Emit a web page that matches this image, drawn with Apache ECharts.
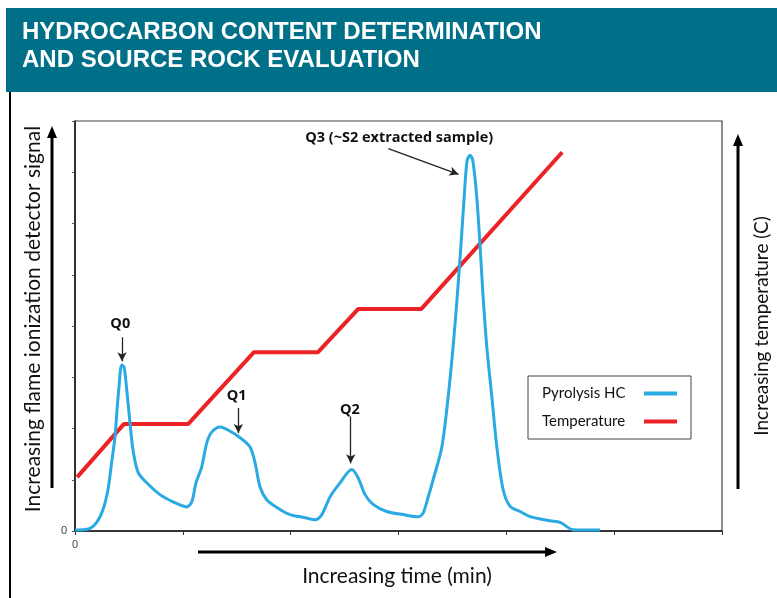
<!DOCTYPE html>
<html>
<head>
<meta charset="utf-8">
<script src="https://cdn.jsdelivr.net/npm/echarts@6/dist/echarts.min.js"></script>
<style>
  html, body { margin: 0; padding: 0; background: #fff; }
  #chart { width: 777px; height: 598px; }
</style>
</head>
<body>
<div id="chart"></div>
<script>
// pyrolysis trace, [time, signal]
const pyrolysisHC = [
  [0, 0.02], [0.123, 0.04], [0.201, 0.17], [0.26, 0.42], [0.306, 0.81], [0.34, 1.34],
  [0.371, 1.84], [0.39, 2.37], [0.408, 2.81], [0.433, 3.24], [0.455, 3.2], [0.48, 2.75],
  [0.51, 2.11], [0.538, 1.58], [0.584, 1.15], [0.665, 0.94], [0.788, 0.71], [0.909, 0.57],
  [1.036, 0.47], [1.083, 0.57], [1.122, 0.94], [1.175, 1.25], [1.222, 1.72], [1.268, 1.93],
  [1.345, 2.03], [1.419, 1.97], [1.531, 1.82], [1.623, 1.64], [1.67, 1.33], [1.716, 0.86],
  [1.778, 0.61], [1.871, 0.46], [1.994, 0.32], [2.134, 0.26], [2.226, 0.22], [2.289, 0.32],
  [2.366, 0.67], [2.458, 0.94], [2.567, 1.2], [2.625, 1.04], [2.69, 0.71], [2.764, 0.52],
  [2.891, 0.38], [3.043, 0.32], [3.182, 0.28], [3.228, 0.35], [3.275, 0.66], [3.321, 1.0],
  [3.402, 1.64], [3.46, 2.61], [3.506, 3.59], [3.544, 4.56], [3.578, 5.54], [3.609, 6.51],
  [3.636, 7.23], [3.664, 7.33], [3.689, 7.23], [3.726, 6.51], [3.757, 5.54], [3.785, 4.56],
  [3.819, 3.59], [3.866, 2.61], [3.912, 1.64], [3.97, 0.81], [4.035, 0.48], [4.128, 0.38],
  [4.221, 0.28], [4.406, 0.2], [4.499, 0.17], [4.608, 0.03], [4.685, 0.02], [4.87, 0.02]
];

// oven temperature ramp (same plot scale)
const temperature = [
  [0.02, 1.05], [0.455, 2.09], [1.051, 2.09], [1.66, 3.49], [2.254, 3.49],
  [2.625, 4.33], [3.21, 4.33], [4.518, 7.39]
];

// peak labels and their arrows
const peakLabels = [
  { name: 'Q0', coord: [0.42, 4.04] },
  { name: 'Q1', coord: [1.5, 2.64] },
  { name: 'Q2', coord: [2.55, 2.36] },
  { name: 'Q3 (~S2 extracted sample)', coord: [3.006, 7.68] }
];
const peakArrows = [
  [[0.436, 3.78], [0.436, 3.31]],
  [[1.515, 2.40], [1.515, 1.91]],
  [[2.557, 2.23], [2.557, 1.32]],
  [[2.906, 7.46], [3.556, 6.96]]
];

const seriesNames = ['Pyrolysis HC', 'Temperature'];
const titleLines = ['HYDROCARBON CONTENT DETERMINATION', 'AND SOURCE ROCK EVALUATION'];

const chart = echarts.init(document.getElementById('chart'));

// legend icons sit right of the text, lined up in one column
const measure = document.createElement('canvas').getContext('2d');
measure.font = '15px Lato';
const legendText = 97;
const legendData = seriesNames.map(n => ({
  name: n,
  textStyle: { padding: [0, Math.max(0, legendText - measure.measureText(n).width), 0, 0] }
}));

function arrow(x1, y1, x2, y2, w) {
  const ang = Math.atan2(y2 - y1, x2 - x1);
  const len = 12, half = 5;
  const bx = x2 - len * Math.cos(ang), by = y2 - len * Math.sin(ang);
  const px = -Math.sin(ang) * half, py = Math.cos(ang) * half;
  return [
    { type: 'line', shape: { x1: x1, y1: y1, x2: bx, y2: by }, style: { stroke: '#000', lineWidth: w } },
    { type: 'polygon', shape: { points: [[x2, y2], [bx + px, by + py], [bx - px, by - py]] }, style: { fill: '#000' } }
  ];
}

const option = {
  animation: false,
  backgroundColor: '#fff',
  grid: {
    left: 75, right: 55, top: 121, bottom: 67,
    show: true, borderColor: '#444', borderWidth: 1.2
  },
  legend: {
    data: legendData,
    orient: 'vertical',
    left: 528, top: 376,
    padding: [10, 14, 10, 14],
    itemGap: 13,
    align: 'right',
    icon: 'rect',
    itemWidth: 33, itemHeight: 4,
    borderColor: '#444', borderWidth: 1,
    textStyle: { fontFamily: 'Lato', fontSize: 15, color: '#111' }
  },
  xAxis: {
    type: 'value', min: 0, max: 6, interval: 1,
    splitLine: { show: false },
    axisLine: { lineStyle: { color: '#111', width: 1.5 } },
    axisTick: { length: 4, lineStyle: { color: '#333' } },
    axisLabel: { formatter: v => (v === 0 ? '0' : ''), color: '#444', fontSize: 11, margin: 8 }
  },
  yAxis: {
    type: 'value', min: 0, max: 8, interval: 1,
    splitLine: { show: false },
    axisLine: { show: true, lineStyle: { color: '#111', width: 1.5 } },
    axisTick: { show: true, length: 3, lineStyle: { color: '#555' } },
    axisLabel: { formatter: v => (v === 0 ? '0' : ''), color: '#444', fontSize: 11, margin: 8 }
  },
  series: [
    {
      name: seriesNames[0],
      type: 'line',
      data: pyrolysisHC,
      smooth: 0.3,
      showSymbol: false,
      lineStyle: { color: '#2aaae2', width: 3 },
      itemStyle: { color: '#2aaae2' },
      z: 3,
      markLine: {
        silent: true,
        symbol: ['none', 'arrow'],
        symbolSize: [7, 9],
        label: { show: false },
        lineStyle: { color: '#222', width: 1.3, type: 'solid' },
        data: peakArrows.map(p => [{ coord: p[0] }, { coord: p[1] }])
      },
      markPoint: {
        silent: true,
        symbol: 'circle',
        symbolSize: 0,
        label: {
          show: true, position: 'inside', formatter: '{b}',
          fontFamily: 'Open Sans', fontWeight: 'bold', fontSize: 14.5, color: '#111'
        },
        data: peakLabels.map(p => ({ name: p.name, coord: p.coord }))
      }
    },
    {
      name: seriesNames[1],
      type: 'line',
      data: temperature,
      showSymbol: false,
      lineStyle: { color: '#ec2227', width: 4 },
      itemStyle: { color: '#ec2227' },
      z: 2
    }
  ],
  graphic: [
    { type: 'rect', shape: { x: 6, y: 8, width: 771, height: 84 }, style: { fill: '#006f88' } },
    {
      type: 'text', x: 22, y: 20,
      style: { text: titleLines[0], fill: '#fff', font: 'bold 24px "Liberation Sans"' }
    },
    {
      type: 'text', x: 22, y: 48,
      style: { text: titleLines[1], fill: '#fff', font: 'bold 24px "Liberation Sans"' }
    },
    { type: 'line', shape: { x1: 10, y1: 92, x2: 10, y2: 598 }, style: { stroke: '#000', lineWidth: 2 } },
    ...arrow(52, 488, 52, 126, 3),
    ...arrow(198, 552, 557, 552, 3),
    ...arrow(738, 489, 738, 134, 3),
    {
      type: 'text', x: 33, y: 319, rotation: Math.PI / 2,
      style: {
        text: 'Increasing flame ionization detector signal', fill: '#111',
        font: '21px Lato', align: 'center', verticalAlign: 'middle'
      }
    },
    {
      type: 'text', x: 397, y: 576,
      style: {
        text: 'Increasing time (min)', fill: '#111',
        font: '21px Lato', align: 'center', verticalAlign: 'middle'
      }
    },
    {
      type: 'text', x: 762, y: 326, rotation: Math.PI / 2,
      style: {
        text: 'Increasing temperature (C)', fill: '#111',
        font: '19px Lato', align: 'center', verticalAlign: 'middle'
      }
    }
  ]
};

chart.setOption(option);
</script>
</body>
</html>
